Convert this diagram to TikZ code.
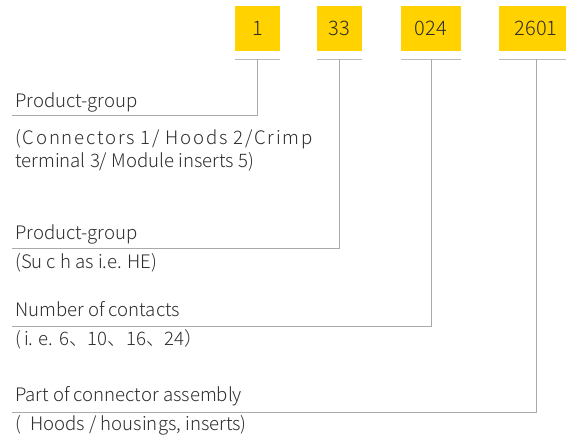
\documentclass[tikz,border=0pt]{standalone}
\usepackage{fontspec}
\IfFontExistsTF{Noto Sans CJK SC Light}{%
  \setmainfont{Noto Sans CJK SC Light}%
  \newfontfamily\spaced[LetterSpace=9.5]{Noto Sans CJK SC Light}}{%
  \setmainfont{Noto Sans CJK SC}%
  \newfontfamily\spaced[LetterSpace=9.5]{Noto Sans CJK SC}}
\definecolor{boxyellow}{RGB}{255,210,0}
\definecolor{txt}{RGB}{45,45,45}
\definecolor{ln}{RGB}{170,170,170}
\begin{document}
\begin{tikzpicture}[x=1pt,y=-1pt,
  codebox/.style={fill=boxyellow,draw=none,minimum height=45pt,inner sep=0pt,font=\fontsize{20}{24}\selectfont,text=txt},
  lab/.style={anchor=base west,inner sep=0pt,font=\fontsize{18.6}{22}\selectfont,text=txt},
  conn/.style={draw=ln,line width=1pt},
  tick/.style={draw=ln!80,line width=1pt}]
\clip (0,0) rectangle (566,443);
\node[codebox,minimum width=45pt] (b1) at (257.5,28.5) {1};
\node[codebox,minimum width=45pt] (b2) at (339.5,28.5) {33};
\node[codebox,minimum width=60pt] (b3) at (431,28.5) {024};
\node[codebox,minimum width=74pt] (b4) at (536,28.5) {2601};
% labels
\node[lab] (t1) at (15,108) {Product-group};
\node[lab] (d1) at (15,145) {\spaced (Connectors 1/ Hoods 2/Crimp};
\node[lab] (d1b) at (15,168) {terminal 3/ Module inserts 5)};
\node[lab] (t2) at (15,240) {Product-group};
\node[lab] (d2) at (15,269) {(Su c h as i.e. HE)};
\node[lab] (t3) at (15,317) {Number of contacts};
\node[lab] (d3) at (15,346) {(\hspace{3pt}i. e. 6、10、16、24）};
\node[lab] (t4) at (15,402) {Part of connector assembly};
\node[lab] (d4) at (15,431) {(\enspace Hoods / housings, inserts)};
% connector end points
\coordinate (e1) at (12,116);
\coordinate (e2) at (12,249);
\coordinate (e3) at (12,327);
\coordinate (e4) at (12,413);
% ticks under boxes
\foreach \b in {b1,b2,b3,b4}{
  \draw[tick] ([yshift=-8pt]\b.south west) -- ([yshift=-8pt]\b.south east);
}
\draw[conn] ([yshift=-8pt]b1.south) |- (e1);
\draw[conn] ([yshift=-8pt]b2.south) |- (e2);
\draw[conn] ([yshift=-8pt]b3.south) |- (e3);
\draw[conn] ([yshift=-8pt]b4.south) |- (e4);
\end{tikzpicture}
\end{document}
